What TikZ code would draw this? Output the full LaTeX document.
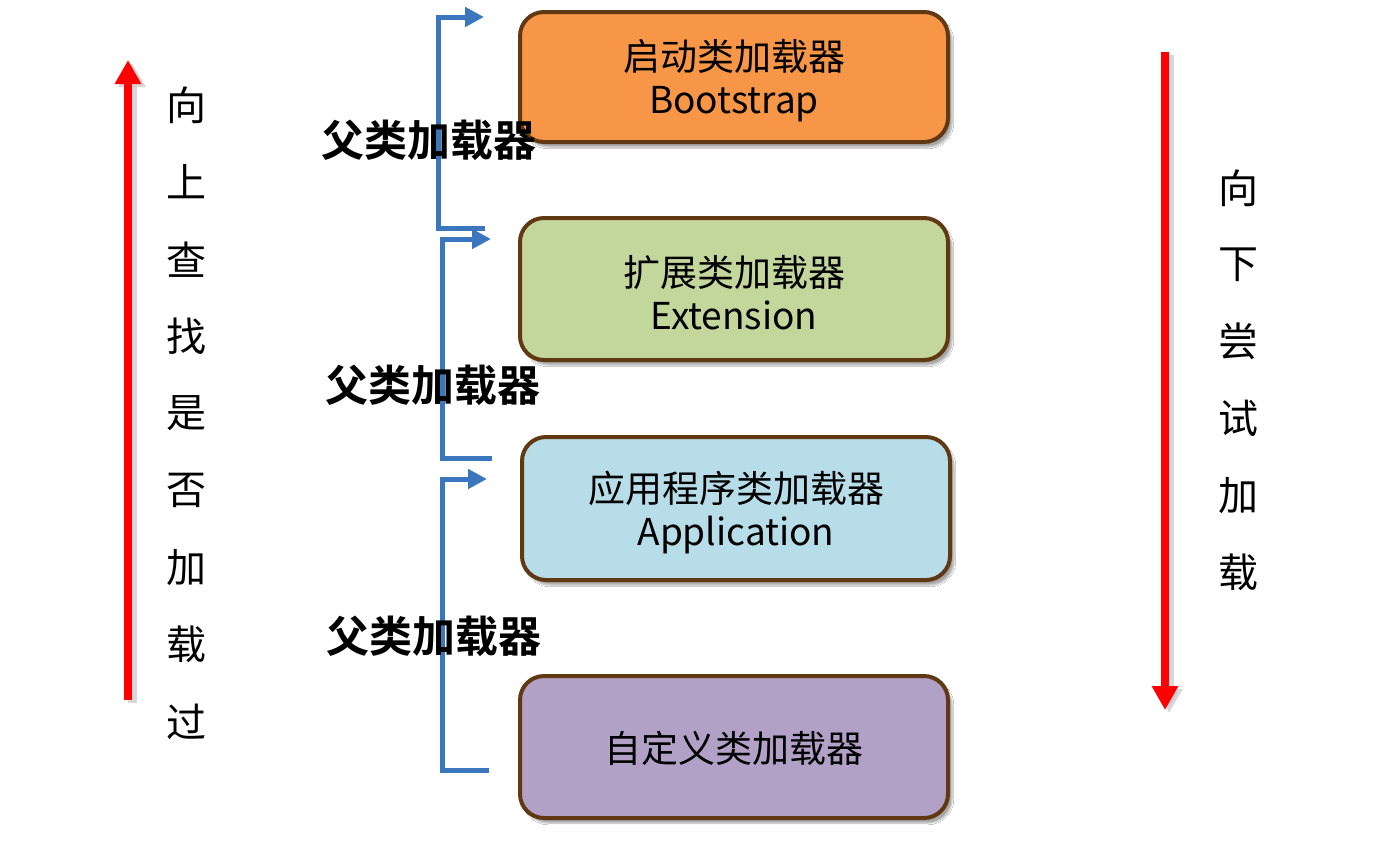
\documentclass[tikz,border=0pt]{standalone}
\usepackage{fontspec}
\newfontfamily\cjk{Noto Sans CJK SC}
\newfontfamily\cjkb{Noto Sans CJK SC Bold}
\usetikzlibrary{arrows.meta,shadows.blur}
\definecolor{bord}{HTML}{603913}
\definecolor{orangef}{HTML}{F79646}
\definecolor{greenf}{HTML}{C3D69B}
\definecolor{bluef}{HTML}{B7DDE8}
\definecolor{purplef}{HTML}{B2A1C7}
\definecolor{bline}{HTML}{3A77BF}
\tikzset{
  box/.style={draw=bord, line width=4pt, rounded corners=24pt, minimum width=428pt,
    align=center, font=\cjk\fontsize{37}{43}\selectfont, inner sep=0pt,
    blur shadow={shadow xshift=4pt, shadow yshift=-5pt, shadow blur steps=6, shadow opacity=35}},
  boxtext/.style={align=center, font=\cjk\fontsize{37}{43}\selectfont, inner sep=0pt},
  bracket/.style={draw=bline, line width=5pt, line join=miter},
  barrow/.style={bracket, -{Triangle[width=19pt,length=19pt]}},
  plabel/.style={font=\cjkb\fontsize{43}{43}\selectfont, inner sep=0pt},
  vchar/.style={font=\cjk\fontsize{40}{40}\selectfont, inner sep=0pt},
  redarrow/.style={draw=red, line width=8pt, -{Triangle[width=25pt,length=24pt]}},
  redshadow/.style={draw=black!25, line width=9pt, opacity=0.6, -{Triangle[width=26pt,length=24pt]}},
}
\begin{document}
\begin{tikzpicture}[x=1pt,y=-1pt]
\useasboundingbox (0,0) rectangle (1399,860);
\fill[white] (0,0) rectangle (1399,860);

% red arrows
\coordinate (la) at (128,700); \coordinate (lb) at (128,60);
\coordinate (ra) at (1165,52); \coordinate (rb) at (1165,710);
\draw[redshadow] ([shift={(4,3)}]la) -- ([shift={(4,3)}]lb);
\draw[redshadow] ([shift={(4,3)}]ra) -- ([shift={(4,3)}]rb);
\draw[redarrow] (la) -- (lb);
\draw[redarrow] (ra) -- (rb);

% brackets
\coordinate (b1s) at (485,228); \coordinate (b1c) at (438,228); \coordinate (b1t) at (438,17); \coordinate (b1e) at (484,17);
\coordinate (b2s) at (492,458); \coordinate (b2c) at (442,458); \coordinate (b2t) at (442,239); \coordinate (b2e) at (491,239);
\coordinate (b3s) at (489,770); \coordinate (b3c) at (442,770); \coordinate (b3t) at (442,479); \coordinate (b3e) at (487,479);
\draw[barrow] (b1s) -- (b1c) -- (b1t) -- (b1e);
\draw[barrow] (b2s) -- (b2c) -- (b2t) -- (b2e);
\draw[barrow] (b3s) -- (b3c) -- (b3t) -- (b3e);

% boxes
\node[box, fill=orangef, minimum height=130pt] (boot) at (734,77) {};
\node[box, fill=greenf, minimum height=142pt] (ext) at (734,289) {};
\node[box, fill=bluef, minimum height=143pt] (app) at (736,508.5) {};
\node[box, fill=purplef, minimum height=142pt] (cust) at (734,747) {};
\node[boxtext] (tboot) at ([yshift=-4pt]boot.center) {启动类加载器\\Bootstrap};
\node[boxtext] (text) at ([yshift=-4pt]ext.center) {扩展类加载器\\Extension};
\node[boxtext] (tapp) at ([yshift=-4pt]app.center) {应用程序类加载器\\Application};
\node[boxtext] (tcust) at ([yshift=-1pt]cust.center) {自定义类加载器};

% labels
\node[plabel] (p1) at (428.5,140) {父类加载器};
\node[plabel] (p2) at (432.5,385) {父类加载器};
\node[plabel] (p3) at (434,636) {父类加载器};

% vertical texts
\foreach \c [count=\i] in {向,上,查,找,是,否,加,载,过} {
  \node[vchar] (l\i) at (186,{105+77.1*(\i-1)}) {\c};
}
\foreach \c [count=\i] in {向,下,尝,试,加,载} {
  \node[vchar] (r\i) at (1238,{188+76.8*(\i-1)}) {\c};
}
\end{tikzpicture}
\end{document}
